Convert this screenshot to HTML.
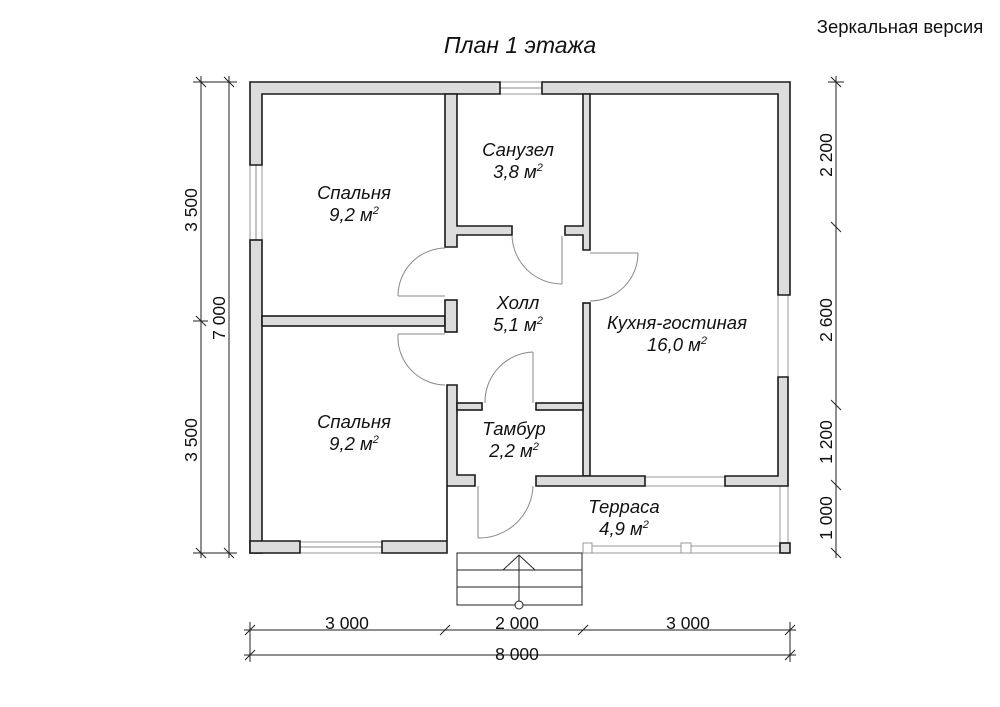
<!DOCTYPE html>
<html><head><meta charset="utf-8"><style>
html,body{margin:0;padding:0;background:#fff;}
svg{display:block;}
text{font-family:"Liberation Sans",sans-serif;fill:#111;}
.w{fill:#dcdcdc;stroke:#1a1a1a;stroke-width:1.6;}
.d{fill:none;stroke:#888;stroke-width:1;}
.win{fill:#fff;stroke:#999;stroke-width:1;}
.dim{stroke:#222;stroke-width:1;fill:none;}
.lbl{font-style:italic;font-size:18.5px;text-anchor:middle;}
.dt{font-size:17.5px;text-anchor:middle;}
</style></head><body>
<svg width="1000" height="707" viewBox="0 0 1000 707" xmlns="http://www.w3.org/2000/svg">
<text x="520" y="53" font-size="23" font-style="italic" text-anchor="middle">План 1 этажа</text>
<text x="900" y="33" font-size="18.5" text-anchor="middle">Зеркальная версия</text>

<!-- windows -->
<rect class="win" x="250" y="165" width="12" height="75"/>
<line class="d" x1="256" y1="165" x2="256" y2="240"/>
<rect class="win" x="500" y="82" width="42" height="12"/>
<line class="d" x1="500" y1="88" x2="542" y2="88"/>
<rect class="win" x="778" y="295" width="10" height="82"/>
<rect class="win" x="645" y="477" width="80" height="9"/>
<rect class="win" x="300" y="542" width="82" height="11"/>
<line class="d" x1="300" y1="547" x2="382" y2="547"/>
<rect class="win" x="780" y="486" width="8" height="57"/>
<rect class="win" x="590" y="546" width="190" height="7"/>
<rect class="win" x="583" y="543" width="9" height="10"/>
<rect class="win" x="681" y="543" width="10" height="10"/>

<!-- walls -->
<path class="w" d="M250 82 H500 V94 H262 V165 H250 Z"/>
<path class="w" d="M542 82 H790 V295 H778 V94 H542 Z"/>
<rect class="w" x="250" y="240" width="12" height="313"/>
<path class="w" d="M250 541 H300 V553 H250 Z"/>
<path class="w" d="M382 541 H447 V486 H475 V475 H457 V385 H447 V553 H382 Z"/>
<rect class="w" x="262" y="316" width="183" height="10"/>
<path class="w" d="M445 94 H457 V226 H512 V235 H457 V247 H445 Z"/>
<rect class="w" x="445" y="300" width="12" height="32"/>
<path class="w" d="M565 226 H583 V94 H590 V250 H583 V235 H565 Z"/>
<rect class="w" x="583" y="303" width="7" height="173"/>
<rect class="w" x="457" y="403" width="25" height="7"/>
<rect class="w" x="536" y="403" width="47" height="7"/>
<path class="w" d="M536 476 H645 V486 H536 Z"/>
<path class="w" d="M725 476 H778 V377 H788 V486 H725 Z"/>
<rect class="w" x="780" y="543" width="10" height="10"/>

<!-- doors -->
<line class="d" x1="398" y1="296" x2="445" y2="296"/><path class="d" d="M398 296 A48 48 0 0 1 445 248"/>
<line class="d" x1="398" y1="334" x2="445" y2="334"/><path class="d" d="M398 334 A48 48 0 0 0 445 385"/>
<line class="d" x1="562" y1="236" x2="562" y2="284"/><path class="d" d="M512 236 A50 50 0 0 0 562 284"/>
<line class="d" x1="590" y1="253" x2="638" y2="253"/><path class="d" d="M638 253 A48 48 0 0 1 590 301"/>
<line class="d" x1="533" y1="352" x2="533" y2="403"/><path class="d" d="M485 403 A50 50 0 0 1 533 352"/>
<line class="d" x1="478" y1="486" x2="478" y2="538"/><path class="d" d="M478 538 A54 54 0 0 0 533 486"/>

<!-- stairs -->
<g class="dim" stroke="#444">
<rect x="457" y="553" width="125" height="52"/>
<line x1="457" y1="570" x2="582" y2="570"/>
<line x1="457" y1="587" x2="582" y2="587"/>
<line x1="519" y1="555" x2="519" y2="601"/>
<polyline points="503,570 519,555 535,570"/>
<circle cx="519" cy="605" r="4" fill="#fff"/>
</g>

<!-- dims -->
<g class="dim">
<line x1="201" y1="76" x2="201" y2="558"/>
<line x1="229" y1="76" x2="229" y2="558"/>
<line x1="193" y1="82" x2="237" y2="82"/>
<line x1="193" y1="553" x2="237" y2="553"/>
<line x1="193" y1="321" x2="208" y2="321"/>
<path d="M196 77 L206 87 M224 77 L234 87 M196 316 L206 326 M196 548 L206 558 M224 548 L234 558"/>
<line x1="836" y1="76" x2="836" y2="558"/>
<line x1="828" y1="82" x2="844" y2="82"/>
<path d="M831 77 L841 87 M831 222 L841 232 M831 400 L841 410 M831 480 L841 490 M831 548 L841 558"/>
<line x1="244" y1="630" x2="796" y2="630"/>
<line x1="244" y1="655" x2="796" y2="655"/>
<line x1="250" y1="622" x2="250" y2="662"/>
<line x1="790" y1="622" x2="790" y2="662"/>
<path d="M245 635 L255 625 M440 635 L450 625 M578 635 L588 625 M785 635 L795 625 M245 660 L255 650 M785 660 L795 650"/>
</g>
<text class="dt" transform="translate(197,210) rotate(-90)">3 500</text>
<text class="dt" transform="translate(197,440) rotate(-90)">3 500</text>
<text class="dt" transform="translate(225,318) rotate(-90)">7 000</text>
<text class="dt" transform="translate(832,155) rotate(-90)">2 200</text>
<text class="dt" transform="translate(832,320) rotate(-90)">2 600</text>
<text class="dt" transform="translate(832,442) rotate(-90)">1 200</text>
<text class="dt" transform="translate(832,518) rotate(-90)">1 000</text>
<text class="dt" x="347" y="629">3 000</text>
<text class="dt" x="517" y="629">2 000</text>
<text class="dt" x="688" y="629">3 000</text>
<text class="dt" x="517" y="660">8 000</text>

<!-- labels -->
<text class="lbl" x="354" y="199">Спальня</text><text class="lbl" x="354" y="221">9,2 м<tspan font-size="11" dy="-7">2</tspan></text>
<text class="lbl" x="518" y="156">Санузел</text><text class="lbl" x="518" y="178">3,8 м<tspan font-size="11" dy="-7">2</tspan></text>
<text class="lbl" x="518" y="309">Холл</text><text class="lbl" x="518" y="331">5,1 м<tspan font-size="11" dy="-7">2</tspan></text>
<text class="lbl" x="677" y="329">Кухня-гостиная</text><text class="lbl" x="677" y="351">16,0 м<tspan font-size="11" dy="-7">2</tspan></text>
<text class="lbl" x="354" y="428">Спальня</text><text class="lbl" x="354" y="450">9,2 м<tspan font-size="11" dy="-7">2</tspan></text>
<text class="lbl" x="514" y="435">Тамбур</text><text class="lbl" x="514" y="457">2,2 м<tspan font-size="11" dy="-7">2</tspan></text>
<text class="lbl" x="624" y="513">Терраса</text><text class="lbl" x="624" y="535">4,9 м<tspan font-size="11" dy="-7">2</tspan></text>
</svg>
</body></html>
